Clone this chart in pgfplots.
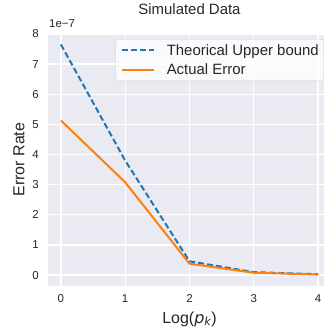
\documentclass[border=0pt]{standalone}
\usepackage{pgfplots}
\pgfplotsset{compat=1.18}
\usepackage{fontspec}
\setmainfont{Liberation Sans}
\newfontfamily\dejavu{DejaVu Sans}
\definecolor{bgc}{HTML}{EAEAF2}
\definecolor{txt}{HTML}{262626}
\definecolor{cblue}{HTML}{1F77B4}
\definecolor{corange}{HTML}{FF7F0E}
\definecolor{lgb}{HTML}{CCCCCC}
\begin{document}
\begin{tikzpicture}
\begin{axis}[
  scale only axis,
  width=283bp, height=253bp,
  xmin=-0.2, xmax=4.2,
  ymin=-0.36, ymax=8.03,
  xtick={0,1,2,3,4},
  ytick={0,1,2,3,4,5,6,7,8},
  axis background/.style={fill=bgc},
  axis line style={draw=none},
  major tick length=0pt,
  grid=major,
  major grid style={draw=white, line width=1.3bp},
  /pgf/number format/assume math mode=true,
  tick label style={font=\fontsize{11.5}{13}\selectfont, text=txt},
  xticklabel style={inner sep=0pt, anchor=north, yshift=-8bp},
  yticklabel style={inner sep=0pt, anchor=east, xshift=-9bp},
  xlabel={Log({\dejavu\itshape p}\textsubscript{\dejavu\itshape k})},
  ylabel={Error Rate},
  xlabel style={font=\fontsize{16}{18}\selectfont, text=txt, at={(axis description cs:0.5,-0.1304)}, anchor=center},
  ylabel style={font=\fontsize{16}{18}\selectfont, text=txt, at={(axis description cs:-0.1025,0.5)}, anchor=center},
  title={Simulated Data},
  title style={font=\fontsize{15}{17}\selectfont, text=txt, at={(axis description cs:0.5,1)}, anchor=base, yshift=13bp},
  legend cell align=left,
  legend style={at={(1,1)}, anchor=north east, xshift=-7bp, yshift=-6bp,
    fill=white, fill opacity=0.8, text opacity=1, draw=lgb, rounded corners=2.5bp,
    font=\fontsize{15}{17}\selectfont, text=txt,
    inner xsep=5bp, inner ysep=5bp, row sep=7bp,
    nodes={inner sep=0pt},
    /tikz/every odd column/.append style={column sep=12bp}},
  legend image code/.code={\draw[#1] (0bp,0bp) -- (32bp,0bp);},
  clip=false,
]
\addplot[cblue, line width=2bp, dash pattern=on 6bp off 3bp] coordinates {
  (0,7.65) (1,3.80) (2,0.46) (3,0.10) (4,0.03)
};
\addlegendentry{Theorical Upper bound}
\addplot[corange, line width=2bp] coordinates {
  (0,5.13) (1,3.08) (2,0.38) (3,0.08) (4,0.02)
};
\addlegendentry{Actual Error}
\node[anchor=base west, inner sep=0pt, font=\fontsize{11.5}{13}\selectfont, text=txt] at (axis description cs:0,1) [yshift=6bp, xshift=1bp] {1e−7};
\end{axis}
\pgfresetboundingbox
\useasboundingbox (-48bp,-43bp) rectangle (276bp,286bp);
\end{tikzpicture}
\end{document}
